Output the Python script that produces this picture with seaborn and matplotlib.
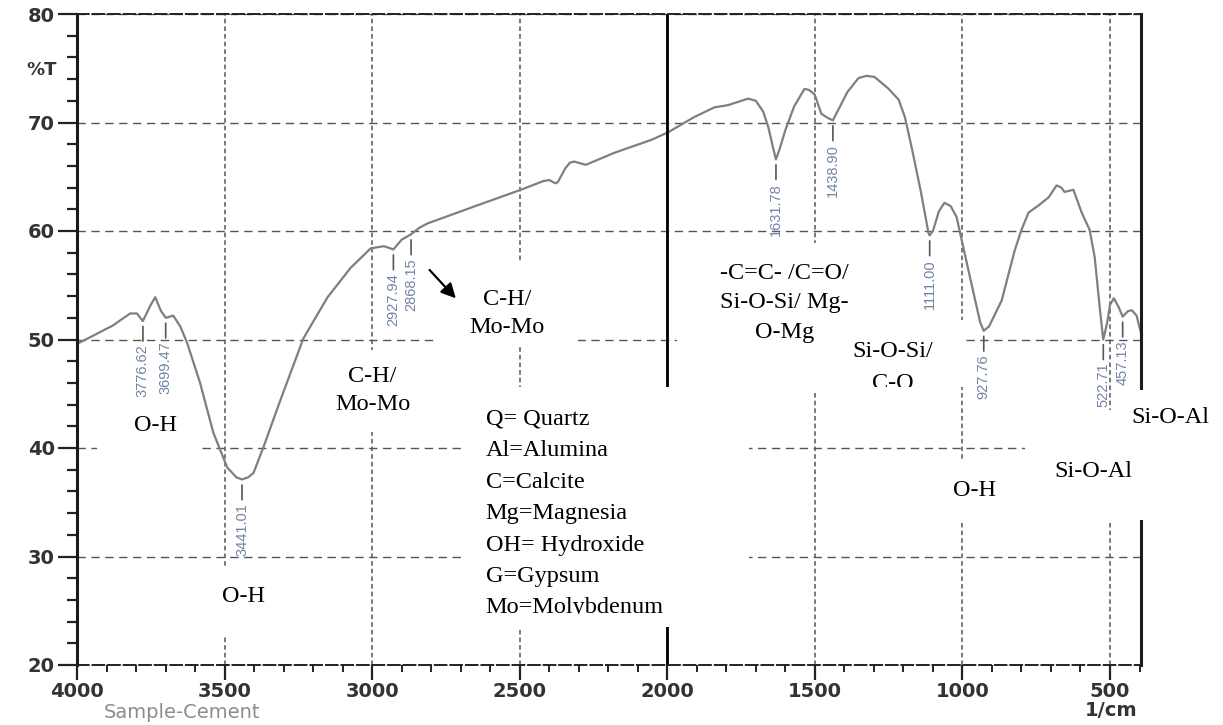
import numpy as np
import pandas as pd
import seaborn as sns
import matplotlib.pyplot as plt
from matplotlib.patches import Rectangle, FancyArrowPatch
from matplotlib.ticker import MultipleLocator

# FTIR spectrum (wavenumber 1/cm, %T)
wavenumber = [4000, 3956, 3878, 3820, 3797, 3777, 3750, 3735, 3715, 3699, 3674, 3650,
              3627, 3583, 3538, 3491, 3460, 3441, 3420, 3402, 3368, 3311, 3233, 3151,
              3073, 3005, 2960, 2928, 2900, 2868, 2840, 2812, 2650, 2496, 2420, 2400,
              2380, 2371, 2345, 2330, 2316, 2276, 2180, 2054, 1997, 1909, 1840, 1794,
              1726, 1700, 1675, 1658, 1640, 1632, 1620, 1600, 1570, 1535, 1520, 1501,
              1478, 1455, 1439, 1420, 1390, 1352, 1325, 1298, 1250, 1216, 1195, 1172,
              1140, 1115, 1111, 1100, 1080, 1061, 1040, 1020, 993, 960, 940, 928,
              910, 867, 823, 800, 776, 740, 708, 681, 665, 654, 624, 596, 569, 552,
              535, 523, 510, 500, 487, 471, 457, 440, 426, 410, 395]
transmittance = [49.6, 50.2, 51.3, 52.4, 52.4, 51.7, 53.2, 53.9, 52.6, 52.0, 52.2, 51.2,
                 49.7, 46.0, 41.4, 38.2, 37.3, 37.1, 37.3, 37.7, 40.1, 44.4, 50.1, 53.9,
                 56.6, 58.4, 58.6, 58.3, 59.2, 59.7, 60.3, 60.7, 62.3, 63.8, 64.6, 64.7,
                 64.4, 64.5, 65.8, 66.3, 66.4, 66.1, 67.2, 68.4, 69.1, 70.5, 71.4, 71.6,
                 72.2, 72.0, 71.0, 69.6, 67.5, 66.6, 67.5, 69.3, 71.5, 73.1, 73.0, 72.6,
                 70.8, 70.4, 70.2, 71.2, 72.8, 74.1, 74.3, 74.2, 73.1, 72.1, 70.5, 67.7,
                 63.5, 59.8, 59.6, 60.0, 61.8, 62.6, 62.3, 61.3, 58.0, 54.0, 51.6, 50.8,
                 51.2, 53.6, 58.2, 60.1, 61.7, 62.4, 63.1, 64.2, 64.0, 63.6, 63.8, 61.7,
                 60.1, 57.6, 53.0, 50.0, 51.5, 53.2, 53.8, 53.0, 52.1, 52.6, 52.7, 52.2, 50.6]

peak_pos = [3776.62, 3699.47, 3441.01, 2927.94, 2868.15, 1631.78, 1438.90,
            1111.00, 927.76, 522.71, 457.13]
peak_labels = ['3776.62', '3699.47', '3441.01', '2927.94', '2868.15', '1631.78',
               '1438.90', '1111.00', '927.76', '522.71', '457.13']

legend_lines = ['Q= Quartz', 'Al=Alumina', 'C=Calcite', 'Mg=Magnesia',
                'OH= Hydroxide', 'G=Gypsum', 'Mo=Molybdenum']

df = pd.DataFrame({'wn': wavenumber, 'T': transmittance})

sns.set_theme(style='white')
plt.rcParams['font.family'] = ['DejaVu Sans']

fig = plt.figure(figsize=(12.23, 7.25), dpi=100)
ax = fig.add_axes([77 / 1223, 1 - 665 / 725, (1141 - 77) / 1223, (665 - 14) / 725])

sns.lineplot(data=df, x='wn', y='T', sort=False, color='#7f7f7f', lw=1.6, ax=ax, zorder=2)

ax.set_xlim(4000, 395)
ax.set_ylim(20, 80)
ax.set_xlabel('')
ax.set_ylabel('')

ax.xaxis.set_major_locator(MultipleLocator(500))
ax.xaxis.set_minor_locator(MultipleLocator(100))
ax.yaxis.set_major_locator(MultipleLocator(10))
ax.yaxis.set_minor_locator(MultipleLocator(2))
ax.tick_params(axis='y', which='major', direction='out', length=14, width=1.6, pad=2,
               left=True, labelsize=14, labelcolor='#333333', color='#222222')
ax.tick_params(axis='y', which='minor', direction='out', length=7, width=1.6, left=True,
               color='#222222')
ax.tick_params(axis='x', which='major', direction='out', length=11, width=1.6, pad=1,
               bottom=True, labelsize=14, labelcolor='#333333', color='#222222')
ax.tick_params(axis='x', which='minor', direction='out', length=5, width=1.4,
               bottom=True, color='#222222')
for lab in ax.get_xticklabels() + ax.get_yticklabels():
    lab.set_fontweight('bold')

# grid
ax.xaxis.grid(True, which='major', ls=(0, (3, 2)), color='#555555', lw=1.1, zorder=1)
ax.yaxis.grid(True, which='major', ls=(0, (6, 4)), color='#555555', lw=1.0, zorder=1)
ax.axvline(2000, color='black', lw=2, zorder=2)

for s in ['left', 'right']:
    ax.spines[s].set_color('#1a1a1a')
    ax.spines[s].set_linewidth(2.2)
for s in ['top', 'bottom']:
    ax.spines[s].set_color('#222222')
    ax.spines[s].set_linewidth(1.4)
    ax.spines[s].set_linestyle((0, (6, 2)))

# peak labels
wn_asc = df['wn'].values[::-1]
t_asc = df['T'].values[::-1]
for pos, lab in zip(peak_pos, peak_labels):
    yv = np.interp(pos, wn_asc, t_asc)
    ax.annotate(lab, xy=(pos, yv), xytext=(0, -17), textcoords='offset points',
                rotation=90, ha='center', va='top', fontsize=10.5, color='#7384a6',
                family='Liberation Sans', zorder=2.8,
                arrowprops=dict(arrowstyle='-', color='#555555', lw=1.2,
                                shrinkA=0, shrinkB=4))

# white patches behind the hand-placed notes (wn_left, wn_right, T_bottom, T_top)
boxes = [(3932, 3583, 39.4, 44.6), (3583, 3277, 22.6, 29.0), (3168, 2819, 41.5, 49.0),
         (2792, 2303, 49.3, 57.1), (2690, 1723, 23.5, 45.6), (1967, 1241, 45.1, 58.9),
         (1410, 993, 45.6, 51.8), (1156, 732, 33.4, 38.9), (789, 324, 33.4, 43.5),
         (487, 110, 40.7, 45.3)]
for x0, x1, y0, y1 in boxes:
    ax.add_patch(Rectangle((x1, y0), x0 - x1, y1 - y0, facecolor='white',
                           edgecolor='none', zorder=3, clip_on=False))

serif = dict(family='Liberation Serif', fontsize=17.5, color='black', zorder=4)
ax.text(3735, 42.1, 'O-H', ha='center', va='center', **serif)
ax.text(3437, 26.3, 'O-H', ha='center', va='center', **serif)
ax.text(2999, 45.3, 'C-H/\nMo-Mo', ha='center', va='center', linespacing=1.45, **serif)
ax.text(2544, 52.4, 'C-H/\nMo-Mo', ha='center', va='center', linespacing=1.45, **serif)
ax.text(2615, 43.6, '\n'.join(legend_lines), ha='left', va='top', linespacing=1.65, **serif)
ax.text(1604, 53.4, '-C=C- /C=O/\nSi-O-Si/ Mg-\nO-Mg', ha='center', va='center',
        linespacing=1.53, **serif)
ax.text(1237, 47.4, 'Si-O-Si/\nC-O', ha='center', va='center', linespacing=1.66, **serif)
ax.text(959, 36.1, 'O-H', ha='center', va='center', **serif)
ax.text(558, 37.8, 'Si-O-Al', ha='center', va='center', **serif)
ax.text(297, 42.8, 'Si-O-Al', ha='center', va='center', clip_on=False, **serif)

# patches that clip the bottoms of two notes
for x0, x1, y0, y1 in [(1410, 1020, 41.2, 45.6), (2690, 1723, 23.5, 24.7)]:
    ax.add_patch(Rectangle((x1, y0), x0 - x1, y1 - y0, facecolor='white',
                           edgecolor='none', zorder=6))

ax.add_patch(FancyArrowPatch((2812, 56.6), (2710, 53.6), arrowstyle='-|>',
                             mutation_scale=22, color='black', lw=1.6, zorder=5))

fig.text(42 / 1223, 1 - 70 / 725, '%T', ha='center', va='center', fontsize=13,
         fontweight='bold', color='#333333')
fig.text(182 / 1223, 1 - 713 / 725, 'Sample-Cement', ha='center', va='center',
         fontsize=14, color='#8c8c8c')
fig.text(1111 / 1223, 1 - 711 / 725, '1/cm', ha='center', va='center', fontsize=14,
         fontweight='bold', color='#333333')

fig.savefig('out.png', dpi=100, facecolor='white')
